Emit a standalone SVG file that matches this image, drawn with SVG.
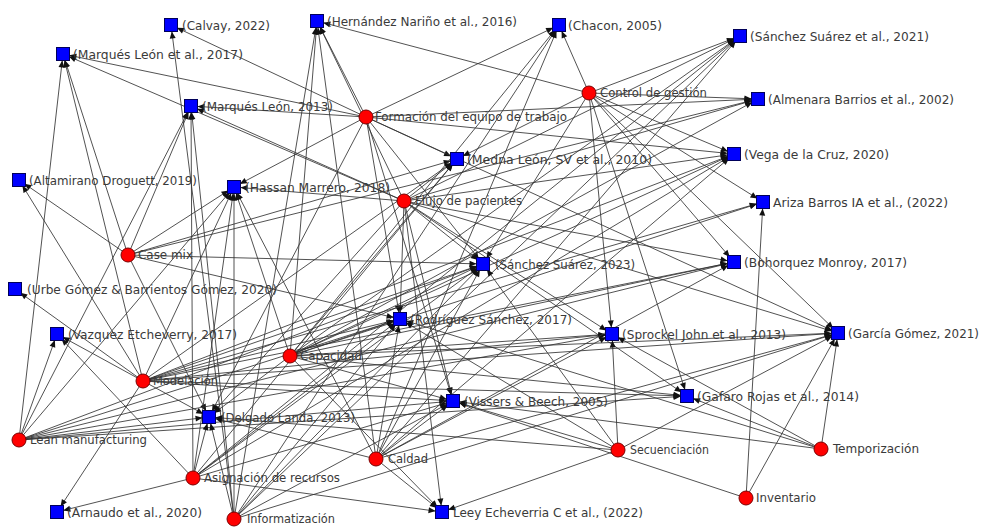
<svg xmlns="http://www.w3.org/2000/svg" width="984" height="527" viewBox="0 0 984 527">
<style>
.e line{stroke:#333333;stroke-width:0.85;fill:none;marker-end:url(#ar)}
.r rect{fill:#0000ff;stroke:#00005a;stroke-width:1}
.c circle{fill:#ff0000;stroke:#7a0000;stroke-width:1}
text{font-family:"DejaVu Sans Condensed","DejaVu Sans","Liberation Sans",sans-serif;font-size:12.5px;fill:#3a3a3a}
</style>
<defs>
<marker id="ar" markerUnits="userSpaceOnUse" markerWidth="7" markerHeight="6" refX="13.5" refY="3" orient="auto" overflow="visible">
<path d="M0,0 L7,3 L0,6 z" fill="#111"/>
</marker>
</defs>
<rect width="984" height="527" fill="#ffffff"/>
<g id="connectors" class="e">
<!-- Formación del equipo de trabajo -->
<line x1="366" y1="117" x2="171" y2="25"/>
<line x1="366" y1="117" x2="317" y2="21"/>
<line x1="366" y1="117" x2="559" y2="25"/>
<line x1="366" y1="117" x2="63" y2="54"/>
<line x1="366" y1="117" x2="191" y2="106"/>
<line x1="366" y1="117" x2="457" y2="159"/>
<line x1="366" y1="117" x2="234" y2="187"/>
<line x1="366" y1="117" x2="483" y2="264"/>
<line x1="366" y1="117" x2="400" y2="319"/>
<line x1="366" y1="117" x2="734" y2="154"/>
<line x1="366" y1="117" x2="758" y2="99"/>
<line x1="366" y1="117" x2="838" y2="333"/>
<line x1="366" y1="117" x2="453" y2="401"/>
<line x1="366" y1="117" x2="209" y2="417"/>
<!-- Control de gestión -->
<line x1="589" y1="93" x2="559" y2="25"/>
<line x1="589" y1="93" x2="317" y2="21"/>
<line x1="589" y1="93" x2="740" y2="36"/>
<line x1="589" y1="93" x2="758" y2="99"/>
<line x1="589" y1="93" x2="734" y2="154"/>
<line x1="589" y1="93" x2="763" y2="202"/>
<line x1="589" y1="93" x2="734" y2="262"/>
<line x1="589" y1="93" x2="612" y2="334"/>
<line x1="589" y1="93" x2="838" y2="333"/>
<line x1="589" y1="93" x2="687" y2="396"/>
<line x1="589" y1="93" x2="457" y2="159"/>
<line x1="589" y1="93" x2="483" y2="264"/>
<!-- Flujo de pacientes -->
<line x1="404" y1="201" x2="457" y2="159"/>
<line x1="404" y1="201" x2="234" y2="187"/>
<line x1="404" y1="201" x2="191" y2="106"/>
<line x1="404" y1="201" x2="63" y2="54"/>
<line x1="404" y1="201" x2="483" y2="264"/>
<line x1="404" y1="201" x2="400" y2="319"/>
<line x1="404" y1="201" x2="453" y2="401"/>
<line x1="404" y1="201" x2="209" y2="417"/>
<line x1="404" y1="201" x2="740" y2="36"/>
<line x1="404" y1="201" x2="758" y2="99"/>
<line x1="404" y1="201" x2="734" y2="154"/>
<line x1="404" y1="201" x2="734" y2="262"/>
<line x1="404" y1="201" x2="612" y2="334"/>
<line x1="404" y1="201" x2="838" y2="333"/>
<line x1="404" y1="201" x2="687" y2="396"/>
<line x1="404" y1="201" x2="442" y2="512"/>
<line x1="404" y1="201" x2="317" y2="21"/>
<!-- Case mix -->
<line x1="128" y1="255" x2="63" y2="54"/>
<line x1="128" y1="255" x2="191" y2="106"/>
<line x1="128" y1="255" x2="234" y2="187"/>
<line x1="128" y1="255" x2="483" y2="264"/>
<line x1="128" y1="255" x2="758" y2="99"/>
<line x1="128" y1="255" x2="400" y2="319"/>
<line x1="128" y1="255" x2="209" y2="417"/>
<line x1="128" y1="255" x2="457" y2="159"/>
<line x1="128" y1="255" x2="19" y2="180"/>
<!-- Capacidad -->
<line x1="290" y1="356" x2="317" y2="21"/>
<line x1="290" y1="356" x2="559" y2="25"/>
<line x1="290" y1="356" x2="740" y2="36"/>
<line x1="290" y1="356" x2="758" y2="99"/>
<line x1="290" y1="356" x2="234" y2="187"/>
<line x1="290" y1="356" x2="457" y2="159"/>
<line x1="290" y1="356" x2="734" y2="154"/>
<line x1="290" y1="356" x2="763" y2="202"/>
<line x1="290" y1="356" x2="483" y2="264"/>
<line x1="290" y1="356" x2="734" y2="262"/>
<line x1="290" y1="356" x2="400" y2="319"/>
<line x1="290" y1="356" x2="612" y2="334"/>
<line x1="290" y1="356" x2="838" y2="333"/>
<line x1="290" y1="356" x2="687" y2="396"/>
<line x1="290" y1="356" x2="209" y2="417"/>
<line x1="290" y1="356" x2="453" y2="401"/>
<line x1="290" y1="356" x2="442" y2="512"/>
<!-- Modelación -->
<line x1="143" y1="381" x2="63" y2="54"/>
<line x1="143" y1="381" x2="19" y2="180"/>
<line x1="143" y1="381" x2="15" y2="289"/>
<line x1="143" y1="381" x2="57" y2="334"/>
<line x1="143" y1="381" x2="234" y2="187"/>
<line x1="143" y1="381" x2="457" y2="159"/>
<line x1="143" y1="381" x2="734" y2="154"/>
<line x1="143" y1="381" x2="763" y2="202"/>
<line x1="143" y1="381" x2="483" y2="264"/>
<line x1="143" y1="381" x2="734" y2="262"/>
<line x1="143" y1="381" x2="400" y2="319"/>
<line x1="143" y1="381" x2="612" y2="334"/>
<line x1="143" y1="381" x2="838" y2="333"/>
<line x1="143" y1="381" x2="687" y2="396"/>
<line x1="143" y1="381" x2="209" y2="417"/>
<line x1="143" y1="381" x2="453" y2="401"/>
<line x1="143" y1="381" x2="57" y2="512"/>
<!-- Lean manufacturing -->
<line x1="19" y1="440" x2="63" y2="54"/>
<line x1="19" y1="440" x2="191" y2="106"/>
<line x1="19" y1="440" x2="57" y2="334"/>
<line x1="19" y1="440" x2="234" y2="187"/>
<line x1="19" y1="440" x2="483" y2="264"/>
<line x1="19" y1="440" x2="734" y2="262"/>
<line x1="19" y1="440" x2="400" y2="319"/>
<line x1="19" y1="440" x2="612" y2="334"/>
<line x1="19" y1="440" x2="209" y2="417"/>
<line x1="19" y1="440" x2="453" y2="401"/>
<line x1="19" y1="440" x2="687" y2="396"/>
<!-- Asignación de recursos -->
<line x1="193" y1="478" x2="191" y2="106"/>
<line x1="193" y1="478" x2="234" y2="187"/>
<line x1="193" y1="478" x2="740" y2="36"/>
<line x1="193" y1="478" x2="457" y2="159"/>
<line x1="193" y1="478" x2="734" y2="154"/>
<line x1="193" y1="478" x2="483" y2="264"/>
<line x1="193" y1="478" x2="57" y2="334"/>
<line x1="193" y1="478" x2="209" y2="417"/>
<line x1="193" y1="478" x2="453" y2="401"/>
<line x1="193" y1="478" x2="442" y2="512"/>
<line x1="193" y1="478" x2="57" y2="512"/>
<line x1="193" y1="478" x2="400" y2="319"/>
<!-- Caldad -->
<line x1="376" y1="459" x2="317" y2="21"/>
<line x1="376" y1="459" x2="559" y2="25"/>
<line x1="376" y1="459" x2="740" y2="36"/>
<line x1="376" y1="459" x2="234" y2="187"/>
<line x1="376" y1="459" x2="734" y2="154"/>
<line x1="376" y1="459" x2="483" y2="264"/>
<line x1="376" y1="459" x2="400" y2="319"/>
<line x1="376" y1="459" x2="612" y2="334"/>
<line x1="376" y1="459" x2="838" y2="333"/>
<line x1="376" y1="459" x2="209" y2="417"/>
<line x1="376" y1="459" x2="453" y2="401"/>
<line x1="376" y1="459" x2="442" y2="512"/>
<line x1="376" y1="459" x2="734" y2="262"/>
<!-- Informatización -->
<line x1="234" y1="519" x2="171" y2="25"/>
<line x1="234" y1="519" x2="317" y2="21"/>
<line x1="234" y1="519" x2="559" y2="25"/>
<line x1="234" y1="519" x2="740" y2="36"/>
<line x1="234" y1="519" x2="191" y2="106"/>
<line x1="234" y1="519" x2="234" y2="187"/>
<line x1="234" y1="519" x2="400" y2="319"/>
<line x1="234" y1="519" x2="838" y2="333"/>
<line x1="234" y1="519" x2="209" y2="417"/>
<line x1="234" y1="519" x2="453" y2="401"/>
<line x1="234" y1="519" x2="483" y2="264"/>
<!-- Secuenciación -->
<line x1="618" y1="450" x2="483" y2="264"/>
<line x1="618" y1="450" x2="453" y2="401"/>
<line x1="618" y1="450" x2="442" y2="512"/>
<line x1="618" y1="450" x2="209" y2="417"/>
<line x1="618" y1="450" x2="838" y2="333"/>
<line x1="618" y1="450" x2="612" y2="334"/>
<line x1="618" y1="450" x2="400" y2="319"/>
<!-- Temporización -->
<line x1="821" y1="449" x2="838" y2="333"/>
<line x1="821" y1="449" x2="687" y2="396"/>
<line x1="821" y1="449" x2="453" y2="401"/>
<line x1="821" y1="449" x2="612" y2="334"/>
<line x1="821" y1="449" x2="400" y2="319"/>
<!-- Inventario -->
<line x1="746" y1="498" x2="763" y2="202"/>
<line x1="746" y1="498" x2="838" y2="333"/>
<line x1="746" y1="498" x2="453" y2="401"/>
</g>
<g id="n-calvay" class="r"><rect x="164.5" y="18.5" width="13" height="13"/><text x="182" y="30" textLength="88" lengthAdjust="spacingAndGlyphs">(Calvay, 2022)</text></g>
<g id="n-hernandez" class="r"><rect x="310.5" y="14.5" width="13" height="13"/><text x="327" y="26" textLength="190" lengthAdjust="spacingAndGlyphs">(Hernández Nariño et al., 2016)</text></g>
<g id="n-chacon" class="r"><rect x="552.5" y="18.5" width="13" height="13"/><text x="568" y="30" textLength="94" lengthAdjust="spacingAndGlyphs">(Chacon, 2005)</text></g>
<g id="n-sanchez2021" class="r"><rect x="733.5" y="29.5" width="13" height="13"/><text x="750" y="41" textLength="179" lengthAdjust="spacingAndGlyphs">(Sánchez Suárez et al., 2021)</text></g>
<g id="n-marques2017" class="r"><rect x="56.5" y="47.5" width="13" height="13"/><text x="73" y="59" textLength="170" lengthAdjust="spacingAndGlyphs">(Marqués León et al., 2017)</text></g>
<g id="n-almenara" class="r"><rect x="751.5" y="92.5" width="13" height="13"/><text x="768" y="104" textLength="186" lengthAdjust="spacingAndGlyphs">(Almenara Barrios et al., 2002)</text></g>
<g id="n-marques2013" class="r"><rect x="184.5" y="99.5" width="13" height="13"/><text x="202" y="111" textLength="131" lengthAdjust="spacingAndGlyphs">(Marqués León, 2013)</text></g>
<g id="n-vega" class="r"><rect x="727.5" y="147.5" width="13" height="13"/><text x="744" y="159" textLength="145" lengthAdjust="spacingAndGlyphs">(Vega de la Cruz, 2020)</text></g>
<g id="n-medna" class="r"><rect x="450.5" y="152.5" width="13" height="13"/><text x="467" y="164" textLength="185" lengthAdjust="spacingAndGlyphs">(Medna León, SV et al., 2010)</text></g>
<g id="n-altamirano" class="r"><rect x="12.5" y="173.5" width="13" height="13"/><text x="29" y="185" textLength="168" lengthAdjust="spacingAndGlyphs">(Altamirano Droguett, 2019)</text></g>
<g id="n-hassan" class="r"><rect x="227.5" y="180.5" width="13" height="13"/><text x="245" y="192" textLength="145" lengthAdjust="spacingAndGlyphs">(Hassan Marrero, 2018)</text></g>
<g id="n-ariza" class="r"><rect x="756.5" y="195.5" width="13" height="13"/><text x="773" y="207" textLength="175" lengthAdjust="spacingAndGlyphs">Ariza Barros IA et al., (2022)</text></g>
<g id="n-sanchez2023" class="r"><rect x="476.5" y="257.5" width="13" height="13"/><text x="495" y="269" textLength="140" lengthAdjust="spacingAndGlyphs">(Sánchez Suárez, 2023)</text></g>
<g id="n-bohorquez" class="r"><rect x="727.5" y="255.5" width="13" height="13"/><text x="744" y="267" textLength="163" lengthAdjust="spacingAndGlyphs">(Bohorquez Monroy, 2017)</text></g>
<g id="n-urbe" class="r"><rect x="8.5" y="282.5" width="13" height="13"/><text x="27" y="294" textLength="250" lengthAdjust="spacingAndGlyphs">(Urbe Gómez &amp; Barrientos Gómez, 2020)</text></g>
<g id="n-vazquez" class="r"><rect x="50.5" y="327.5" width="13" height="13"/><text x="68" y="339" textLength="169" lengthAdjust="spacingAndGlyphs">(Vazquez Etcheverry, 2017)</text></g>
<g id="n-rodriguez" class="r"><rect x="393.5" y="312.5" width="13" height="13"/><text x="410" y="324" textLength="162" lengthAdjust="spacingAndGlyphs">(Rodríguez Sánchez, 2017)</text></g>
<g id="n-sprockel" class="r"><rect x="605.5" y="327.5" width="13" height="13"/><text x="622" y="339" textLength="164" lengthAdjust="spacingAndGlyphs">(Sprockel John et al., 2013)</text></g>
<g id="n-garcia" class="r"><rect x="831.5" y="326.5" width="13" height="13"/><text x="848" y="338" textLength="131" lengthAdjust="spacingAndGlyphs">(García Gómez, 2021)</text></g>
<g id="n-delgado" class="r"><rect x="202.5" y="410.5" width="13" height="13"/><text x="221" y="422" textLength="134" lengthAdjust="spacingAndGlyphs">(Delgado Landa, 2013)</text></g>
<g id="n-vissers" class="r"><rect x="446.5" y="394.5" width="13" height="13"/><text x="464" y="406" textLength="144" lengthAdjust="spacingAndGlyphs">(Vissers &amp; Beech, 2005)</text></g>
<g id="n-gafaro" class="r"><rect x="680.5" y="389.5" width="13" height="13"/><text x="697" y="401" textLength="162" lengthAdjust="spacingAndGlyphs">(Gafaro Rojas et al., 2014)</text></g>
<g id="n-arnaudo" class="r"><rect x="50.5" y="505.5" width="13" height="13"/><text x="67" y="517" textLength="135" lengthAdjust="spacingAndGlyphs">(Arnaudo et al., 2020)</text></g>
<g id="n-leey" class="r"><rect x="435.5" y="505.5" width="13" height="13"/><text x="453" y="517" textLength="190" lengthAdjust="spacingAndGlyphs">Leey Echeverria C et al., (2022)</text></g>
<g id="n-control" class="c"><circle cx="589" cy="93" r="7"/><text x="600" y="97" textLength="107" lengthAdjust="spacingAndGlyphs">Control de gestión</text></g>
<g id="n-formacion" class="c"><circle cx="366" cy="117" r="7"/><text x="375" y="121" textLength="192" lengthAdjust="spacingAndGlyphs">Formación del equipo de trabajo</text></g>
<g id="n-flujo" class="c"><circle cx="404" cy="201" r="7"/><text x="415" y="205" textLength="107" lengthAdjust="spacingAndGlyphs">Flujo de pacientes</text></g>
<g id="n-casemix" class="c"><circle cx="128" cy="255" r="7"/><text x="138" y="259" textLength="55" lengthAdjust="spacingAndGlyphs">Case mix</text></g>
<g id="n-capacidad" class="c"><circle cx="290" cy="356" r="7"/><text x="300" y="360" textLength="62" lengthAdjust="spacingAndGlyphs">Capacidad</text></g>
<g id="n-modelacion" class="c"><circle cx="143" cy="381" r="7"/><text x="153" y="385" textLength="65" lengthAdjust="spacingAndGlyphs">Modelación</text></g>
<g id="n-lean" class="c"><circle cx="19" cy="440" r="7"/><text x="30" y="444" textLength="117" lengthAdjust="spacingAndGlyphs">Lean manufacturing</text></g>
<g id="n-asignacion" class="c"><circle cx="193" cy="478" r="7"/><text x="204" y="482" textLength="136" lengthAdjust="spacingAndGlyphs">Asignación de recursos</text></g>
<g id="n-calidad" class="c"><circle cx="376" cy="459" r="7"/><text x="388" y="463" textLength="40" lengthAdjust="spacingAndGlyphs">Caldad</text></g>
<g id="n-secuenciacion" class="c"><circle cx="618" cy="450" r="7"/><text x="630" y="454" textLength="79" lengthAdjust="spacingAndGlyphs">Secuenciación</text></g>
<g id="n-temporizacion" class="c"><circle cx="821" cy="449" r="7"/><text x="833" y="453" textLength="86" lengthAdjust="spacingAndGlyphs">Temporización</text></g>
<g id="n-inventario" class="c"><circle cx="746" cy="498" r="7"/><text x="756" y="502" textLength="60" lengthAdjust="spacingAndGlyphs">Inventario</text></g>
<g id="n-informatizacion" class="c"><circle cx="234" cy="519" r="7"/><text x="247" y="523" textLength="88" lengthAdjust="spacingAndGlyphs">Informatización</text></g>
</svg>
